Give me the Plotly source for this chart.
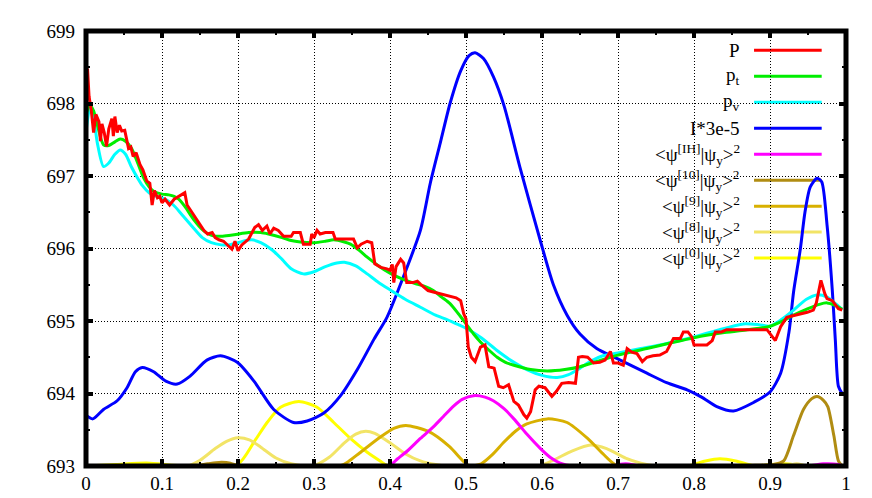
import plotly.graph_objects as go

# ---------------- data ----------------
P_x = [0.0, 0.002, 0.004, 0.007, 0.010, 0.013, 0.017, 0.019, 0.021, 0.024, 0.027, 0.030, 0.034, 0.036,
       0.038, 0.041, 0.044, 0.047, 0.051, 0.056, 0.059, 0.062, 0.066, 0.071, 0.075, 0.080, 0.084, 0.087,
       0.090, 0.094, 0.097, 0.100, 0.104, 0.110, 0.116, 0.122, 0.127, 0.130, 0.133, 0.138, 0.145, 0.150,
       0.155, 0.160, 0.166, 0.170, 0.175, 0.181, 0.186, 0.192, 0.196, 0.200, 0.205, 0.214, 0.222, 0.227,
       0.232, 0.238, 0.242, 0.247, 0.253, 0.260, 0.270, 0.273, 0.282, 0.286, 0.295, 0.297, 0.300, 0.304,
       0.308, 0.315, 0.325, 0.328, 0.335, 0.352, 0.357, 0.362, 0.370, 0.376, 0.380, 0.388, 0.396, 0.400,
       0.403, 0.405, 0.408, 0.414, 0.418, 0.422, 0.430, 0.436, 0.440, 0.445, 0.450, 0.457, 0.465, 0.470,
       0.475, 0.480, 0.487, 0.493, 0.497, 0.500, 0.503, 0.507, 0.512, 0.519, 0.525, 0.530, 0.537, 0.543,
       0.549, 0.556, 0.563, 0.569, 0.576, 0.580, 0.585, 0.591, 0.596, 0.604, 0.613, 0.619, 0.626, 0.635,
       0.644, 0.648, 0.653, 0.660, 0.668, 0.676, 0.683, 0.690, 0.694, 0.700, 0.707, 0.712, 0.718, 0.725,
       0.732, 0.738, 0.746, 0.755, 0.764, 0.773, 0.782, 0.786, 0.792, 0.797, 0.800, 0.817, 0.824, 0.828,
       0.836, 0.843, 0.865, 0.880, 0.896, 0.907, 0.914, 0.922, 0.935, 0.949, 0.957, 0.961, 0.967, 0.972,
       0.975, 0.982, 0.990, 0.995]
P_y = [697.9, 698.48, 698.1, 697.9, 697.6, 697.85, 697.75, 697.48, 697.72, 697.6, 697.41, 697.65, 697.79, 697.55,
       697.82, 697.6, 697.7, 697.62, 697.63, 697.38, 697.4, 697.27, 697.32, 697.16, 697.08, 696.93, 696.9, 696.6,
       696.8, 696.7, 696.72, 696.63, 696.68, 696.6, 696.68, 696.72, 696.75, 696.77, 696.6, 696.52, 696.4, 696.32,
       696.25, 696.2, 696.22, 696.15, 696.12, 696.1, 696.05, 695.99, 696.1, 695.97, 696.05, 696.13, 696.29, 696.33,
       696.25, 696.31, 696.2, 696.28, 696.25, 696.17, 696.17, 696.22, 696.22, 696.06, 696.06, 696.2, 696.15, 696.25,
       696.2, 696.22, 696.22, 696.13, 696.13, 696.13, 696.01, 696.06, 696.1, 696.08, 695.79, 695.74, 695.72, 695.7,
       695.78, 695.53, 695.75, 695.85, 695.8, 695.53, 695.53, 695.55, 695.51, 695.46, 695.42, 695.4, 695.38, 695.37,
       695.36, 695.34, 695.32, 695.28, 695.1, 695.03, 694.64, 694.5, 694.44, 694.64, 694.67, 694.37, 694.35, 694.1,
       694.08, 694.12, 693.89, 693.84, 693.71, 693.66, 693.75, 694.05, 694.1, 694.08, 693.96, 694.03, 694.14, 694.15,
       694.14, 694.5, 694.51, 694.5, 694.42, 694.43, 694.46, 694.58, 694.42, 694.42, 694.39, 694.62, 694.57, 694.55,
       694.44, 694.5, 694.52, 694.53, 694.58, 694.76, 694.76, 694.85, 694.85, 694.78, 694.67, 694.67, 694.73, 694.85,
       694.85, 694.88, 694.88, 694.88, 694.88, 694.73, 694.92, 695.05, 695.08, 695.12, 695.15, 695.25, 695.56, 695.38,
       695.31, 695.28, 695.17, 695.15]

pt_x = [0.0, 0.005, 0.010, 0.015, 0.023, 0.030, 0.038, 0.045, 0.052, 0.060, 0.068, 0.076, 0.083, 0.089, 0.100,
        0.109, 0.116, 0.122, 0.130, 0.137, 0.143, 0.152, 0.161, 0.170, 0.180, 0.195, 0.214, 0.230, 0.240, 0.258,
        0.270, 0.282, 0.300, 0.315, 0.326, 0.340, 0.348, 0.360, 0.370, 0.385, 0.400, 0.418, 0.435, 0.445, 0.457,
        0.468, 0.479, 0.490, 0.500, 0.510, 0.519, 0.530, 0.541, 0.552, 0.563, 0.585, 0.607, 0.630, 0.650, 0.675,
        0.700, 0.738, 0.770, 0.800, 0.840, 0.870, 0.898, 0.915, 0.931, 0.950, 0.965, 0.975, 0.985, 0.995]
pt_y = [697.85, 697.98, 697.9, 697.7, 697.43, 697.42, 697.47, 697.51, 697.48, 697.38, 697.18, 696.97, 696.85, 696.79, 696.75,
        696.74, 696.72, 696.68, 696.58, 696.47, 696.38, 696.27, 696.2, 696.17, 696.17, 696.19, 696.22, 696.22, 696.2, 696.15,
        696.11, 696.09, 696.08, 696.1, 696.12, 696.09, 696.06, 695.97, 695.88, 695.76, 695.66, 695.57, 695.51, 695.48, 695.42,
        695.33, 695.24, 695.1, 694.96, 694.82, 694.71, 694.6, 694.5, 694.43, 694.39, 694.33, 694.31, 694.33, 694.37, 694.45,
        694.53, 694.62, 694.7, 694.77, 694.84, 694.88, 694.92, 694.99, 695.08, 695.17, 695.23, 695.25, 695.22, 695.16]

pv_x = [0.0, 0.005, 0.010, 0.015, 0.023, 0.030, 0.038, 0.045, 0.052, 0.060, 0.068, 0.074, 0.083, 0.093, 0.104,
        0.115, 0.126, 0.140, 0.153, 0.165, 0.178, 0.188, 0.200, 0.210, 0.218, 0.230, 0.245, 0.258, 0.270, 0.286,
        0.300, 0.315, 0.330, 0.340, 0.355, 0.370, 0.385, 0.400, 0.420, 0.440, 0.460, 0.475, 0.490, 0.500, 0.520,
        0.540, 0.560, 0.580, 0.600, 0.620, 0.635, 0.650, 0.665, 0.680, 0.700, 0.730, 0.760, 0.800, 0.830, 0.865,
        0.885, 0.900, 0.915, 0.931, 0.948, 0.962, 0.975, 0.985, 0.995]
pv_y = [697.6, 697.93, 697.8, 697.45, 697.13, 697.18, 697.3, 697.36, 697.3, 697.12, 696.97, 696.87, 696.77, 696.72, 696.68,
        696.6, 696.47, 696.3, 696.15, 696.08, 696.05, 696.05, 696.08, 696.11, 696.12, 696.08, 695.98, 695.85, 695.72, 695.65,
        695.68, 695.75, 695.8, 695.81, 695.76, 695.65, 695.53, 695.43, 695.3, 695.19, 695.08, 695.02, 694.95, 694.9, 694.77,
        694.6, 694.45, 694.33, 694.25, 694.22, 694.26, 694.35, 694.45, 694.52, 694.56, 694.62, 694.68, 694.78, 694.87, 694.96,
        694.95, 694.93, 695.02, 695.15, 695.3, 695.36, 695.33, 695.25, 695.16]

I_x = [0.000, 0.009, 0.023, 0.041, 0.054, 0.065, 0.074, 0.089, 0.105, 0.120, 0.137, 0.159, 0.177, 0.199, 0.221,
       0.247, 0.273, 0.291, 0.313, 0.335, 0.357, 0.379, 0.396, 0.418, 0.440, 0.453, 0.466, 0.479, 0.493, 0.504,
       0.512, 0.523, 0.536, 0.550, 0.571, 0.598, 0.615, 0.633, 0.650, 0.672, 0.699, 0.738, 0.764, 0.791, 0.810,
       0.830, 0.852, 0.879, 0.900, 0.914, 0.925, 0.931, 0.940, 0.946, 0.953, 0.962, 0.968, 0.975, 0.982, 0.986,
       0.990, 0.995]
I_y = [693.7, 693.65, 693.78, 693.9, 694.08, 694.3, 694.36, 694.3, 694.17, 694.13, 694.24, 694.46, 694.52, 694.43, 694.17,
       693.78, 693.6, 693.62, 693.73, 693.97, 694.33, 694.75, 695.05, 695.62, 696.25, 696.9, 697.45, 698.0, 698.45, 698.66,
       698.7, 698.62, 698.37, 697.97, 697.12, 696.1, 695.5, 695.08, 694.82, 694.62, 694.48, 694.28, 694.15, 694.05, 693.95,
       693.82, 693.76, 693.88, 694.02, 694.28, 694.85, 695.4, 696.0, 696.5, 696.85, 696.97, 696.92, 696.33, 695.42, 694.73,
       694.1, 694.0]

IH_x = [0.0, 0.398, 0.410, 0.422, 0.440, 0.457, 0.470, 0.484, 0.495, 0.510, 0.525, 0.536, 0.550, 0.563, 0.580,
        0.598, 0.612, 0.624, 0.640, 0.690, 0.710, 0.730, 0.750, 0.950, 0.970, 0.990, 0.995]
IH_y = [693.0, 693.0, 693.1, 693.2, 693.38, 693.54, 693.68, 693.83, 693.92, 693.97, 693.95, 693.9, 693.79, 693.65, 693.44,
        693.24, 693.11, 693.04, 693.0, 693.0, 693.03, 693.0, 693.0, 693.0, 693.03, 693.02, 693.0]

S10_x = [0.0, 0.140, 0.160, 0.175, 0.190, 0.200, 0.860, 0.880, 0.905, 0.918, 0.931, 0.944, 0.955, 0.962, 0.970,
         0.976, 0.984, 0.990, 0.995]
S10_y = [693.0, 693.0, 693.03, 693.05, 693.04, 693.0, 693.0, 693.01, 693.02, 693.07, 693.42, 693.78, 693.93, 693.96, 693.91,
         693.82, 693.42, 693.07, 693.0]

S9_x = [0.0, 0.334, 0.345, 0.360, 0.386, 0.405, 0.421, 0.450, 0.478, 0.497, 0.505, 0.520, 0.535, 0.550, 0.565,
        0.580, 0.607, 0.633, 0.660, 0.680, 0.700, 0.995]
S9_y = [693.0, 693.0, 693.06, 693.18, 693.39, 693.52, 693.56, 693.48, 693.27, 693.06, 693.0, 693.03, 693.16, 693.33, 693.48,
        693.58, 693.65, 693.6, 693.38, 693.17, 693.0, 693.0]

S8_x = [0.0, 0.133, 0.150, 0.170, 0.185, 0.200, 0.215, 0.230, 0.250, 0.270, 0.298, 0.320, 0.340, 0.355, 0.368,
        0.380, 0.400, 0.420, 0.440, 0.460, 0.475, 0.595, 0.615, 0.640, 0.664, 0.685, 0.710, 0.730, 0.750, 0.920,
        0.935, 0.950, 0.995]
S8_y = [693.0, 693.0, 693.08, 693.24, 693.34, 693.39, 693.36, 693.26, 693.11, 693.03, 693.0, 693.12, 693.32, 693.44, 693.48,
        693.45, 693.32, 693.17, 693.07, 693.02, 693.0, 693.0, 693.08, 693.21, 693.29, 693.24, 693.11, 693.04, 693.0, 693.0,
        693.03, 693.0, 693.0]

S0_x = [0.0, 0.040, 0.080, 0.130, 0.200, 0.221, 0.239, 0.256, 0.280, 0.304, 0.326, 0.349, 0.370, 0.387, 0.398,
        0.790, 0.815, 0.834, 0.855, 0.880, 0.900, 0.920, 0.945, 0.995]
S0_y = [693.0, 693.02, 693.04, 693.0, 693.03, 693.33, 693.61, 693.81, 693.89, 693.81, 693.6, 693.37, 693.19, 693.07, 693.0,
        693.0, 693.07, 693.1, 693.07, 693.0, 693.02, 693.03, 693.0, 693.0]

# (name, x, y, colour, legend label, smooth?)
series = [
    ("P", P_x, P_y, "#ff0000", "P", False),
    ("p_t", pt_x, pt_y, "#00ee00", "p<sub>t</sub>", True),
    ("p_v", pv_x, pv_y, "#00ffff", "p<sub>v</sub>", True),
    ("I*3e-5", I_x, I_y, "#0000ff", "I*3e-5", True),
    ("IH", IH_x, IH_y, "#ff00ff", "&lt;ψ<sup>[IH]</sup>|ψ<sub>y</sub>&gt;<sup>2</sup>", True),
    ("10", S10_x, S10_y, "#b08c12", "&lt;ψ<sup>[10]</sup>|ψ<sub>y</sub>&gt;<sup>2</sup>", True),
    ("9", S9_x, S9_y, "#d8b000", "&lt;ψ<sup>[9]</sup>|ψ<sub>y</sub>&gt;<sup>2</sup>", True),
    ("8", S8_x, S8_y, "#f2e466", "&lt;ψ<sup>[8]</sup>|ψ<sub>y</sub>&gt;<sup>2</sup>", True),
    ("0", S0_x, S0_y, "#ffff00", "&lt;ψ<sup>[0]</sup>|ψ<sub>y</sub>&gt;<sup>2</sup>", True),
]

FONT = "Liberation Serif"

fig = go.Figure()
for name, xs, ys, col, _, smooth in reversed(series):
    line = dict(color=col, width=3)
    if smooth:
        line.update(shape="spline", smoothing=0.7)
    fig.add_trace(go.Scatter(x=xs, y=ys, mode="lines", name=name, showlegend=False,
                             line=line, hoverinfo="skip"))

shapes = []
annotations = []
# white key box: above the grid, below the curves
shapes.append(dict(type="rect", xref="paper", yref="paper", x0=0.724, x1=0.984, y0=0.452, y1=0.993,
                   fillcolor="white", line=dict(width=0), layer="between"))
row_top = 0.9556
row_step = 0.0597
for i, (name, xs, ys, col, label, _) in enumerate(series):
    yy = row_top - i * row_step
    shapes.append(dict(type="line", xref="paper", yref="paper", x0=0.879, x1=0.968, y0=yy, y1=yy,
                       line=dict(color=col, width=3), layer="between"))
    annotations.append(dict(xref="paper", yref="paper", x=0.862, y=yy, text=label, showarrow=False,
                            xanchor="right", yanchor="middle", borderpad=0,
                            font=dict(family=FONT, size=19, color="black")))
# frame
shapes.append(dict(type="rect", xref="paper", yref="paper", x0=0, x1=1, y0=0, y1=1,
                   line=dict(color="black", width=5), layer="above"))

axis_common = dict(
    showgrid=True, gridcolor="black", gridwidth=1, griddash="1px,2px",
    zeroline=False, showline=False, automargin=False,
    ticks="inside", ticklen=7, tickwidth=4, tickcolor="black", mirror="ticks",
    tickfont=dict(family=FONT, size=19, color="black"),
)

fig.update_layout(
    width=872, height=498, autosize=False,
    margin=dict(l=78, r=34, t=23, b=40, pad=0),
    paper_bgcolor="white", plot_bgcolor="white",
    font=dict(family=FONT, size=19, color="black"),
    shapes=shapes, annotations=annotations,
    xaxis=dict(range=[0, 1], dtick=0.1, tick0=0, ticklabelstandoff=4,
               minor=dict(dtick=0.05, ticks="inside", ticklen=4, tickwidth=2, tickcolor="black", showgrid=False),
               **axis_common),
    yaxis=dict(range=[693, 699], dtick=1, tick0=693, ticklabelstandoff=10,
               minor=dict(dtick=0.5, ticks="inside", ticklen=4, tickwidth=2, tickcolor="black", showgrid=False),
               **axis_common),
)

fig.write_html("out.html")
